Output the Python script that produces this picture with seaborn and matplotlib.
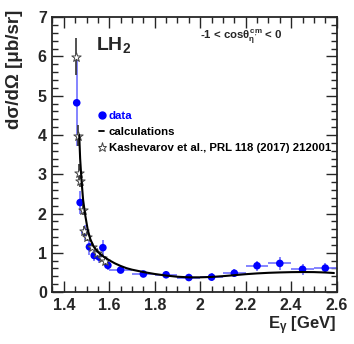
import matplotlib
matplotlib.use("Agg")
import matplotlib.pyplot as plt
import pandas as pd
import seaborn as sns
from matplotlib.lines import Line2D
from matplotlib.ticker import MultipleLocator

# this measurement (LH2, -1 < cos theta < 0)
e_data = [1.457, 1.472, 1.494, 1.513, 1.534, 1.556, 1.572, 1.594,
          1.65, 1.75, 1.85, 1.95, 2.05, 2.15, 2.25, 2.35, 2.45, 2.55]
xs_data = [4.82, 2.28, 1.52, 1.15, 0.93, 0.89, 1.13, 0.68,
           0.56, 0.46, 0.44, 0.37, 0.38, 0.48, 0.67, 0.73, 0.58, 0.61]
xs_err = [1.1, 0.3, 0.2, 0.2, 0.15, 0.15, 0.2, 0.12,
          0.05, 0.05, 0.07, 0.085, 0.1, 0.1, 0.13, 0.16, 0.14, 0.13]
e_err = [0, 0, 0, 0, 0, 0, 0, 0,
         0.05, 0.05, 0.05, 0.05, 0.05, 0.05, 0.05, 0.05, 0.05, 0.05]

# Kashevarov et al., PRL 118 (2017) 212001
e_kash = [1.454, 1.462, 1.465, 1.472, 1.484, 1.487, 1.502, 1.524, 1.546, 1.568, 1.582]
xs_kash = [5.99, 3.98, 3.04, 2.83, 2.10, 1.55, 1.40, 1.16, 0.99, 0.86, 0.78]
kash_err = [0.47, 0.27, 0.23, 0.15, 0.15, 0.12, 0.1, 0.1, 0.08, 0.08, 0.08]

# calculations
e_calc = [1.468, 1.472, 1.478, 1.485, 1.494, 1.505, 1.516, 1.53, 1.55, 1.573,
          1.60, 1.625, 1.65, 1.675, 1.70, 1.75, 1.80, 1.85, 1.90, 1.95,
          2.0, 2.05, 2.10, 2.15, 2.20, 2.25, 2.30, 2.35, 2.40, 2.45,
          2.50, 2.55, 2.588]
xs_calc = [4.0, 3.4, 2.85, 2.35, 1.97, 1.6, 1.36, 1.17, 1.02, 0.91,
           0.81, 0.73, 0.665, 0.61, 0.57, 0.51, 0.46, 0.42, 0.39, 0.375,
           0.375, 0.385, 0.405, 0.43, 0.455, 0.475, 0.49, 0.50, 0.507, 0.51,
           0.508, 0.498, 0.485]

data = pd.DataFrame({"e": e_data, "xs": xs_data})
kash = pd.DataFrame({"e": e_kash, "xs": xs_kash})
calc = pd.DataFrame({"e": e_calc, "xs": xs_calc})

sns.set_style("ticks")
plt.rcParams["font.family"] = ["Liberation Sans", "DejaVu Sans"]
plt.rcParams["font.weight"] = "bold"
plt.rcParams["mathtext.fontset"] = "custom"
plt.rcParams["mathtext.rm"] = "Liberation Sans"
plt.rcParams["mathtext.it"] = "Liberation Sans"
plt.rcParams["mathtext.bf"] = "Liberation Sans:bold"

fig = plt.figure(figsize=(3.54, 3.44), dpi=100)
ax = fig.add_axes([0.148, 0.151, 0.803, 0.799])

ax.errorbar(data["e"], data["xs"], xerr=e_err, yerr=xs_err, fmt="none",
            ecolor="#6f6fff", elinewidth=1.2, zorder=2)
sns.scatterplot(data=data, x="e", y="xs", ax=ax, color="#0000ff", s=30,
                edgecolor="none", zorder=3)
ax.errorbar(kash["e"], kash["xs"], yerr=kash_err, fmt="none",
            ecolor="#333333", elinewidth=1.2, zorder=4)
sns.scatterplot(data=kash, x="e", y="xs", ax=ax, marker="*", s=50,
                facecolor="white", edgecolor="#444444", linewidth=0.7, zorder=5)
sns.lineplot(data=calc, x="e", y="xs", ax=ax, color="black", linewidth=1.5,
             sort=False, errorbar=None, zorder=6)

ax.set_xlim(1.35, 2.6)
ax.set_ylim(0, 7)
ax.xaxis.set_major_locator(MultipleLocator(0.2))
ax.xaxis.set_minor_locator(MultipleLocator(0.05))
ax.yaxis.set_major_locator(MultipleLocator(1))
ax.yaxis.set_minor_locator(MultipleLocator(0.2))
ax.set_xticks([1.4, 1.6, 1.8, 2.0, 2.2, 2.4, 2.6])
ax.set_xticklabels(["1.4", "1.6", "1.8", "2", "2.2", "2.4", "2.6"])
ax.tick_params(which="both", direction="in", top=True, right=True,
               labelsize=11.5, width=1)
ax.tick_params(which="major", length=8, pad=4)
ax.tick_params(which="minor", length=4)
for lab in ax.get_xticklabels() + ax.get_yticklabels():
    lab.set_fontweight("bold")
for sp in ax.spines.values():
    sp.set_linewidth(1.3)

ax.set_xlabel(r"E$_{\gamma}$ [GeV]", fontsize=12, fontweight="bold", loc="right")
ax.xaxis.set_label_coords(1.0, -0.08)
ax.set_ylabel("dσ/dΩ [μb/sr]", fontsize=13.5, fontweight="bold", loc="top")
ax.yaxis.set_label_coords(-0.105, 1.028)

ax.text(0.154, 0.90, r"LH$\mathbf{_2}$", transform=ax.transAxes, fontsize=14,
        fontweight="bold", va="center", ha="left")
ax.text(0.52, 0.927, r"-1 < cos$\theta^{cm}_{\eta'}$ < 0", transform=ax.transAxes,
        fontsize=8.2, fontweight="bold", va="center", ha="left")

handles = [
    Line2D([], [], marker="o", color="#0000ff", ls="none", ms=5),
    Line2D([], [], color="black", lw=1.3),
    Line2D([], [], marker="*", mfc="white", mec="#444444", ls="none", ms=6.5, mew=0.7),
]
leg = ax.legend(handles, ["data", "calculations", "Kashevarov et al., PRL 118 (2017) 212001"],
                loc="upper left", bbox_to_anchor=(0.163, 0.66), frameon=False,
                fontsize=8.2, handlelength=0.5, handletextpad=0.4, labelspacing=0.55,
                borderaxespad=0, borderpad=0)
for txt, col in zip(leg.get_texts(), ["#0000ff", "black", "black"]):
    txt.set_color(col)
    txt.set_fontweight("bold")

fig.savefig("out.png", dpi=100)
